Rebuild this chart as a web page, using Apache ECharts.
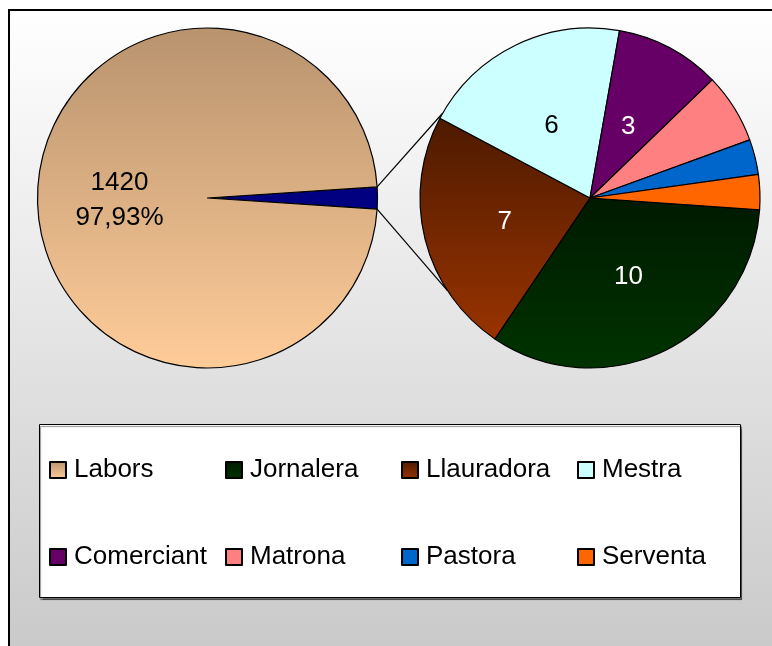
<!DOCTYPE html>
<html>
<head>
<meta charset="utf-8">
<script src="https://cdn.jsdelivr.net/npm/echarts@6/dist/echarts.min.js"></script>
<style>
  html, body { margin: 0; padding: 0; background: #fff; }
  #chart { width: 772px; height: 646px; }
</style>
</head>
<body>
<div id="chart"></div>
<script>
// left pie: main category + the grouped rest
var mainName = 'Labors'
var mainValue = 1420
var restName = 'Altres'
// right pie: breakdown of the rest
var restNames = ['Jornalera', 'Llauradora', 'Mestra', 'Comerciant', 'Matrona', 'Pastora', 'Serventa']
var restValues = [10, 7, 6, 3, 2, 1, 1]
var legendRow1 = ['Labors', 'Jornalera', 'Llauradora', 'Mestra']
var legendRow2 = ['Comerciant', 'Matrona', 'Pastora', 'Serventa']

var FONT = '"Liberation Sans", Arial, sans-serif'
var R = 170
var leftCenter = [207.5, 198]
var rightCenter = [590, 198]

function vgrad(top, bottom) {
  return new echarts.graphic.LinearGradient(0, 0, 0, 1, [
    { offset: 0, color: top },
    { offset: 1, color: bottom }
  ])
}

var restColors = {
  Jornalera: vgrad('#001a00', '#003300'),
  Llauradora: vgrad('#4d1a00', '#993300'),
  Mestra: '#ccffff',
  Comerciant: '#660066',
  Matrona: '#ff8080',
  Pastora: '#0066cc',
  Serventa: '#ff6600'
}
// only the bigger slices carry a label
var labelColors = { Jornalera: '#fff', Llauradora: '#fff', Mestra: '#000', Comerciant: '#fff' }
var labelNudge = { Jornalera: [0, 0], Llauradora: [0, 3], Mestra: [0, 7], Comerciant: [-3, 7] }

var restTotal = restValues.reduce(function (a, b) { return a + b }, 0)
var total = mainValue + restTotal
var halfAngle = 180 * restTotal / total

var rightData = restNames.map(function (n, i) {
  var shown = labelColors[n] !== undefined
  return {
    name: n,
    value: restValues[i],
    itemStyle: { color: restColors[n] },
    label: { show: shown, color: labelColors[n] || '#000', offset: labelNudge[n] || [0, 0] }
  }
})

// connector lines from the small slice to the second pie
function pt(c, a) {
  var rad = a * Math.PI / 180
  return [c[0] + R * Math.cos(rad), c[1] - R * Math.sin(rad)]
}
var p1 = pt(leftCenter, halfAngle), p2 = pt(leftCenter, -halfAngle)
var q1 = pt(rightCenter, 150), q2 = pt(rightCenter, 213)

var legendBase = {
  orient: 'horizontal',
  left: 49,
  padding: 0,
  itemWidth: 16,
  itemHeight: 16,
  itemGap: 0,
  icon: 'rect',
  selectedMode: false,
  textStyle: { fontFamily: FONT, fontSize: 26, color: '#000', width: 151, lineHeight: 30, padding: [0, 0, 0, 3] }
}

var chart = echarts.init(document.getElementById('chart'))
chart.setOption({
  animation: false,
  graphic: [
    {
      type: 'rect', z: -10,
      shape: { x: 9, y: 10, width: 800, height: 700 },
      style: {
        fill: new echarts.graphic.LinearGradient(0, 10, 0, 646, [
          { offset: 0, color: '#ffffff' },
          { offset: 1, color: '#cacaca' }
        ], true),
        stroke: '#000', lineWidth: 2
      }
    },
    {
      type: 'rect', z: -5,
      shape: { x: 39.5, y: 424.5, width: 701, height: 173 },
      style: { fill: '#fff', stroke: '#000', lineWidth: 1, shadowColor: 'rgba(0,0,0,0.45)', shadowOffsetX: 1, shadowOffsetY: 2, shadowBlur: 1 }
    },
    { type: 'line', z: 1, shape: { x1: p1[0], y1: p1[1], x2: q1[0], y2: q1[1] }, style: { stroke: '#000', lineWidth: 1.2 } },
    { type: 'line', z: 1, shape: { x1: p2[0], y1: p2[1], x2: q2[0], y2: q2[1] }, style: { stroke: '#000', lineWidth: 1.2 } }
  ],
  legend: [
    Object.assign({}, legendBase, { top: 455, data: legendRow1 }),
    Object.assign({}, legendBase, { top: 542, data: legendRow2 })
  ],
  series: [
    {
      type: 'pie',
      center: leftCenter,
      radius: [0, R],
      startAngle: halfAngle,
      clockwise: true,
      avoidLabelOverlap: false,
      itemStyle: { borderColor: '#000', borderWidth: 1.2 },
      label: {
        position: 'inside',
        fontFamily: FONT, fontSize: 26, lineHeight: 35, color: '#000',
        offset: [0, 2],
        formatter: function (p) {
          return p.value + '\n' + p.percent.toFixed(2).replace('.', ',') + '%'
        }
      },
      emphasis: { disabled: true },
      percentPrecision: 2,
      data: [
        { name: restName, value: restTotal, itemStyle: { color: '#000080' }, label: { show: false } },
        { name: mainName, value: mainValue, itemStyle: { color: vgrad('#b8936e', '#ffcc99') } }
      ]
    },
    {
      type: 'pie',
      center: rightCenter,
      radius: [0, R],
      startAngle: 356,
      clockwise: true,
      avoidLabelOverlap: false,
      itemStyle: { borderColor: '#000', borderWidth: 1.2 },
      label: { position: 'inside', fontFamily: FONT, fontSize: 26, formatter: '{c}' },
      emphasis: { disabled: true },
      data: rightData
    }
  ]
})
</script>
</body>
</html>
